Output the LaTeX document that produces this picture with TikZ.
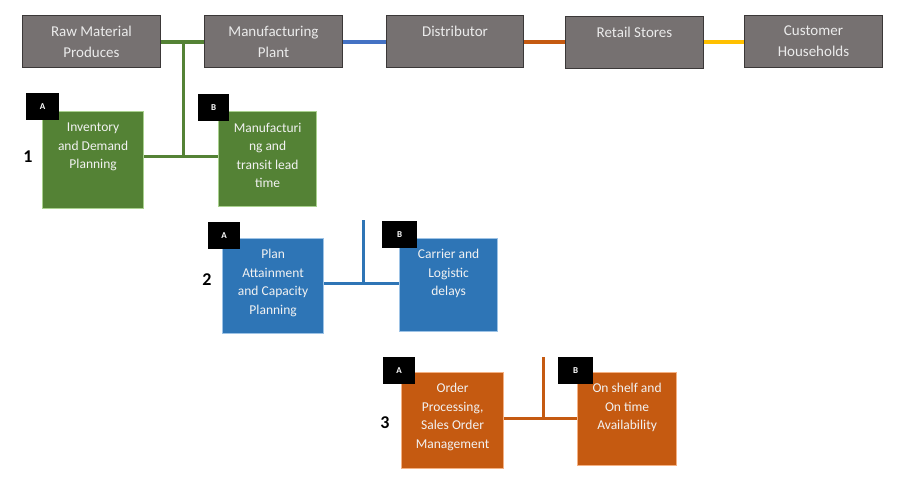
\documentclass[tikz,border=0pt]{standalone}
\usepackage{fontspec}
\setmainfont{Carlito}
\definecolor{gfill}{HTML}{548235}
\definecolor{gedge}{HTML}{A9D18E}
\definecolor{bfill}{HTML}{2E75B6}
\definecolor{bedge}{HTML}{9DC3E6}
\definecolor{ofill}{HTML}{C55A11}
\definecolor{oedge}{HTML}{F4B183}
\definecolor{tfill}{HTML}{767171}
\definecolor{tedge}{HTML}{3B3838}
\definecolor{bline}{HTML}{4472C4}
\definecolor{yline}{HTML}{FFC000}
\begin{document}
\begin{tikzpicture}[x=1pt,y=-1pt,
  topbox/.style={draw=tedge, line width=1pt, fill=tfill, anchor=north west, inner sep=0pt, minimum width=138pt, minimum height=52pt},
  cbox/.style={anchor=north west, inner sep=0pt, line width=1.2pt},
  gbox/.style={cbox, draw=gedge, fill=gfill},
  bbox/.style={cbox, draw=bedge, fill=bfill},
  obox/.style={cbox, draw=oedge, fill=ofill},
  toptext/.style={anchor=north, inner sep=0pt, align=center, text=white!92!black, font=\fontsize{15}{21}\selectfont},
  boxtext/.style={anchor=north, inner sep=0pt, align=center, text=white!95!black, font=\fontsize{13.5}{18.5}\selectfont},
  tag/.style={fill=black, anchor=north west, inner sep=0pt, minimum width=33pt, minimum height=27pt, text=white, font=\bfseries\fontsize{9}{10}\selectfont},
  num/.style={font=\bfseries\fontsize{18}{20}\selectfont, inner sep=0pt},
  conn/.style={line width=4pt}
]
\useasboundingbox[fill=white] (0,0) rectangle (897,483);

% top chain
\node[topbox] (tb1) at (22,15) {};
\node[topbox] (tb2) at (204,15) {};
\node[topbox, minimum width=137pt] (tb3) at (386,15) {};
\node[topbox] (tb4) at (565,16) {};
\node[topbox] (tb5) at (744,15) {};
\node[toptext] (t1) at ([yshift=-11pt]tb1.north) {Raw Material\\Produces};
\node[toptext] (t2) at ([yshift=-11pt]tb2.north) {Manufacturing\\Plant};
\node[toptext] (t3) at ([yshift=-11pt]tb3.north) {Distributor};
\node[toptext] (t4) at ([yshift=-11pt]tb4.north) {Retail Stores};
\node[toptext] (t5) at ([yshift=-11pt]tb5.north) {Customer\\Households};

\draw[conn, gfill] (tb1.east) -- (tb2.west);
\draw[conn, bline] (tb2.east) -- (tb3.west);
\draw[conn, ofill] (tb3.east) -- (tb4.west |- tb3.east);
\draw[conn, yline] ([yshift=1pt]tb4.east) -- ([yshift=1pt]tb5.west |- tb4.east);

% group 1
\node[gbox, minimum width=101pt, minimum height=97pt] (gA) at (42,111) {};
\node[gbox, minimum width=98pt, minimum height=95pt] (gB) at (218,111) {};
\node[tag] (lA1) at (26,93) {A};
\node[tag, minimum width=31pt] (lB1) at (198,94) {B};
\node[boxtext] (gAt) at ([yshift=-12pt]gA.north) {Inventory\\and Demand\\Planning};
\node[boxtext] (gBt) at ([yshift=-12pt]gB.north) {Manufacturi\\ng and\\transit lead\\time};
\node[num] (n1) at (28,157) {1};
\coordinate (j1) at (183,42);
\coordinate (k1) at (183,156);
\draw[line width=3pt, gfill] (j1) -- (k1);
\draw[line width=3pt, gfill] (gA.east |- k1) -- (gB.west |- k1);

% group 2
\node[bbox, minimum width=101pt, minimum height=95pt] (bA) at (222,238) {};
\node[bbox, minimum width=98pt, minimum height=93pt] (bB) at (399,238) {};
\node[tag, minimum width=32pt] (lA2) at (208,222) {A};
\node[tag, minimum width=35pt] (lB2) at (382,221) {B};
\node[boxtext] (bAt) at ([yshift=-11pt]bA.north) {Plan\\Attainment\\and Capacity\\Planning};
\node[boxtext] (bBt) at ([yshift=-11pt]bB.north) {Carrier and\\Logistic\\delays};
\node[num] (n2) at (207,280) {2};
\coordinate (j2) at (363,220);
\coordinate (k2) at (363,283);
\draw[line width=3pt, bfill] (j2) -- (k2);
\draw[line width=3pt, bfill] (bA.east |- k2) -- (bB.west |- k2);

% group 3
\node[obox, minimum width=102pt, minimum height=96pt] (oA) at (401,372) {};
\node[obox, minimum width=99pt, minimum height=93pt] (oB) at (577,372) {};
\node[tag, minimum width=32pt] (lA3) at (383,357) {A};
\node[tag, minimum width=35pt] (lB3) at (558,357) {B};
\node[boxtext] (oAt) at ([yshift=-11pt]oA.north) {Order\\Processing,\\Sales Order\\Management};
\node[boxtext] (oBt) at ([yshift=-11pt]oB.north) {On shelf and\\On time\\Availability};
\node[num] (n3) at (385,423) {3};
\coordinate (j3) at (543,357);
\coordinate (k3) at (543,418);
\draw[line width=3pt, ofill] (j3) -- (k3);
\draw[line width=3pt, ofill] (oA.east |- k3) -- (oB.west |- k3);
\end{tikzpicture}
\end{document}
